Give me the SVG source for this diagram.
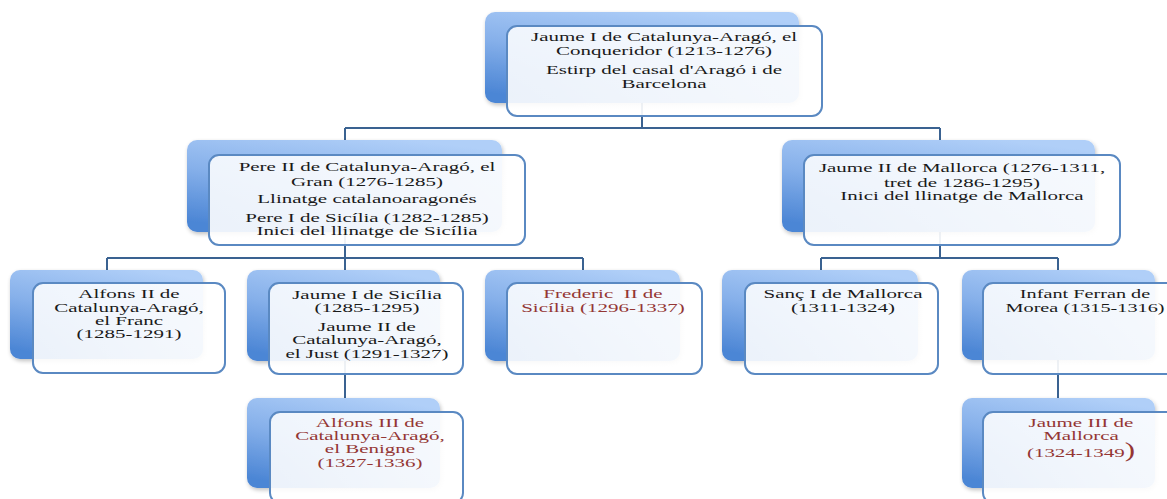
<svg xmlns="http://www.w3.org/2000/svg" width="1167" height="499" viewBox="0 0 1167 499">
<defs>
<linearGradient id="bg" x1="0.7" y1="0" x2="0.3" y2="1">
<stop offset="0" stop-color="#b0cff8"/>
<stop offset="0.5" stop-color="#86b0ea"/>
<stop offset="1" stop-color="#4c86d5"/>
</linearGradient>
<linearGradient id="fg" x1="0" y1="0" x2="1" y2="1">
<stop offset="0" stop-color="#ffffff" stop-opacity="0.86"/>
<stop offset="1" stop-color="#ffffff" stop-opacity="0.94"/>
</linearGradient>
<filter id="sh" x="-10%" y="-10%" width="130%" height="130%">
<feGaussianBlur in="SourceAlpha" stdDeviation="2"/>
<feOffset dx="1" dy="2"/>
<feComponentTransfer><feFuncA type="linear" slope="0.25"/></feComponentTransfer>
<feMerge><feMergeNode/><feMergeNode in="SourceGraphic"/></feMerge>
</filter>
</defs>
<style>
.back{fill:url(#bg);filter:url(#sh)}
.front{fill:url(#fg);stroke:#5a89c2;stroke-width:2}
.t{font-family:"Liberation Serif","Times New Roman",serif;font-size:13.5px;fill:#1a1a1a;text-anchor:middle}
.r{fill:#943634}
.conn{fill:none;stroke:#3a6291;stroke-width:2}
</style>
<rect width="1167" height="499" fill="#ffffff"/>
<g id="connectors" class="conn">
<path d="M642 103V128M345 128H940M345 128V140M940 128V140"/>
<path d="M345 232V258M107 258H583M107 258V270M345 258V270M583 258V270"/>
<path d="M940 232V258M821 258H1058M821 258V270M1058 258V270"/>
<path d="M345 361V398M1058 360V398"/>
</g>
<g id="n-jaume1">
<rect class="back" x="485" y="12" width="314" height="91" rx="10"/>
<rect class="front" x="507" y="26" width="315" height="90" rx="10"/>
<g transform="translate(664 0) scale(1.555 1)">
<text class="t" x="0" y="41">Jaume I de Catalunya-Aragó, el</text>
<text class="t" x="0" y="55">Conqueridor (1213-1276)</text>
<text class="t" x="0" y="74">Estirp del casal d'Aragó i de</text>
<text class="t" x="0" y="88">Barcelona</text>
</g>
</g>
<g id="n-pere2">
<rect class="back" x="187" y="140" width="315" height="92" rx="10"/>
<rect class="front" x="209" y="155" width="316" height="90" rx="10"/>
<g transform="translate(367 0) scale(1.555 1)">
<text class="t" x="0" y="171">Pere II de Catalunya-Aragó, el</text>
<text class="t" x="0" y="186">Gran (1276-1285)</text>
<text class="t" x="0" y="203">Llinatge catalanoaragonés</text>
<text class="t" x="0" y="222">Pere I de Sicília (1282-1285)</text>
<text class="t" x="0" y="235">Inici del llinatge de Sicília</text>
</g>
</g>
<g id="n-jaume2m">
<rect class="back" x="782" y="140" width="313" height="92" rx="10"/>
<rect class="front" x="804" y="155" width="316" height="90" rx="10"/>
<g transform="translate(962 0) scale(1.555 1)">
<text class="t" x="0" y="172">Jaume II de Mallorca (1276-1311,</text>
<text class="t" x="0" y="187">tret de 1286-1295)</text>
<text class="t" x="0" y="200">Inici del llinatge de Mallorca</text>
</g>
</g>
<g id="n-alfons2">
<rect class="back" x="10" y="270" width="193" height="89" rx="10"/>
<rect class="front" x="33" y="283" width="192" height="90" rx="10"/>
<g transform="translate(129 0) scale(1.555 1)">
<text class="t" x="0" y="298">Alfons II de</text>
<text class="t" x="0" y="312">Catalunya-Aragó,</text>
<text class="t" x="0" y="325">el Franc</text>
<text class="t" x="0" y="338">(1285-1291)</text>
</g>
</g>
<g id="n-jaume1s">
<rect class="back" x="247" y="270" width="193" height="91" rx="10"/>
<rect class="front" x="269" y="283" width="194" height="91" rx="10"/>
<g transform="translate(367 0) scale(1.555 1)">
<text class="t" x="0" y="299">Jaume I de Sicília</text>
<text class="t" x="0" y="312">(1285-1295)</text>
<text class="t" x="0" y="331">Jaume II de</text>
<text class="t" x="0" y="344">Catalunya-Aragó,</text>
<text class="t" x="0" y="358">el Just (1291-1327)</text>
</g>
</g>
<g id="n-frederic2">
<rect class="back" x="485" y="270" width="195" height="91" rx="10"/>
<rect class="front" x="507" y="283" width="195" height="91" rx="10"/>
<g transform="translate(603 0) scale(1.555 1)">
<text class="t r" x="0" y="298" xml:space="preserve">Frederic  II de</text>
<text class="t r" x="0" y="312">Sicília (1296-1337)</text>
</g>
</g>
<g id="n-sanc1">
<rect class="back" x="722" y="270" width="196" height="91" rx="10"/>
<rect class="front" x="745" y="283" width="193" height="91" rx="10"/>
<g transform="translate(843 0) scale(1.555 1)">
<text class="t" x="0" y="298">Sanç I de Mallorca</text>
<text class="t" x="0" y="312">(1311-1324)</text>
</g>
</g>
<g id="n-ferran">
<rect class="back" x="962" y="270" width="193" height="90" rx="10"/>
<rect class="front" x="983" y="283" width="195" height="91" rx="10"/>
<g transform="translate(1085 0) scale(1.5 1)">
<text class="t" x="0" y="298">Infant Ferran de</text>
<text class="t" x="0" y="312">Morea (1315-1316)</text>
</g>
</g>
<g id="n-alfons3">
<rect class="back" x="247" y="398" width="193" height="90" rx="10"/>
<rect class="front" x="270" y="412" width="193" height="91" rx="10"/>
<g transform="translate(370 0) scale(1.555 1)">
<text class="t r" x="0" y="427">Alfons III de</text>
<text class="t r" x="0" y="440">Catalunya-Aragó,</text>
<text class="t r" x="0" y="453">el Benigne</text>
<text class="t r" x="0" y="467">(1327-1336)</text>
</g>
</g>
<g id="n-jaume3m">
<rect class="back" x="962" y="398" width="193" height="90" rx="10"/>
<rect class="front" x="983" y="412" width="195" height="91" rx="10"/>
<g transform="translate(1081 0) scale(1.555 1)">
<text class="t r" x="0" y="427">Jaume III de</text>
<text class="t r" x="0" y="440">Mallorca</text>
<text class="t r" x="0" y="457">(1324-1349<tspan font-size="20">)</tspan></text>
</g>
</g>
</svg>
